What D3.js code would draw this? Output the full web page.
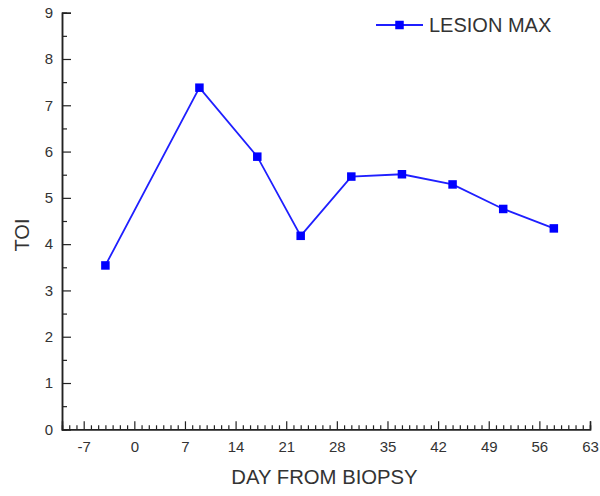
<!DOCTYPE html>
<html><head><meta charset="utf-8">
<script src="https://cdn.jsdelivr.net/npm/d3@7"></script>
<style>body{margin:0;background:#fff}svg{display:block}</style>
</head><body>
<svg id="c" width="600" height="496"></svg>
<script>
const days = [-4, 9, 17, 23, 30, 37, 44, 51, 58];
const lesionMax = [3.54, 7.38, 5.89, 4.18, 5.46, 5.51, 5.29, 4.76, 4.34];
const xTicks = [-7, 0, 7, 14, 21, 28, 35, 42, 49, 56, 63];
const yTicks = [0, 1, 2, 3, 4, 5, 6, 7, 8, 9];
const seriesName = "LESION MAX";
const xTitle = "DAY FROM BIOPSY";
const yTitle = "TOI";

const svg = d3.select("#c");
const L = 62, R = 590, T = 12.7, B = 429.3;
const x = d3.scaleLinear().domain([-10, 63]).range([L, R]);
const y = d3.scaleLinear().domain([0, 9]).range([B, T]);
const font = "'Liberation Sans', Arial, sans-serif";
const axisCol = "#222", textCol = "#333";
const fmt = v => String(v);

// minor ticks
const xMinor = d3.range(-9, 64).filter(v => !xTicks.includes(v));
const yMinor = d3.range(0.5, 9, 1);

const gx = svg.append("g").attr("transform", `translate(0,${B})`);
gx.call(d3.axisTop(x).tickValues(xMinor).tickSize(4).tickFormat(""));
const gx2 = svg.append("g").attr("transform", `translate(0,${B})`);
gx2.call(d3.axisTop(x).tickValues(xTicks).tickSize(8).tickFormat(""));
const gxl = svg.append("g").attr("transform", `translate(0,${B})`);
gxl.call(d3.axisBottom(x).tickValues(xTicks).tickSize(0).tickPadding(12).tickFormat(fmt));
[gx, gx2, gxl].forEach(g => {
  g.select(".domain").attr("stroke", axisCol).attr("stroke-width", 1.5);
  g.selectAll(".tick line").attr("stroke", axisCol).attr("stroke-width", 1.2);
});
gxl.select(".domain").remove();
gxl.selectAll("text").attr("font-family", font).attr("font-size", 15).attr("fill", textCol);

const gy = svg.append("g").attr("transform", `translate(${L},0)`);
gy.call(d3.axisRight(y).tickValues(yMinor).tickSize(5).tickFormat(""));
const gy2 = svg.append("g").attr("transform", `translate(${L},0)`);
gy2.call(d3.axisRight(y).tickValues(yTicks).tickSize(9).tickFormat(""));
const gyl = svg.append("g").attr("transform", `translate(${L},0)`);
gyl.call(d3.axisLeft(y).tickValues(yTicks).tickSize(0).tickPadding(9).tickFormat(fmt));
[gy, gy2, gyl].forEach(g => {
  g.select(".domain").attr("stroke", axisCol).attr("stroke-width", 1.5);
  g.selectAll(".tick line").attr("stroke", axisCol).attr("stroke-width", 1.2);
});
gyl.select(".domain").remove();
gyl.selectAll("text").attr("font-family", font).attr("font-size", 15).attr("fill", textCol);

// titles
svg.append("text").attr("x", 324.5).attr("y", 484)
  .attr("text-anchor", "middle").attr("font-family", font).attr("font-size", 20.3)
  .attr("fill", textCol).text(xTitle);
svg.append("text").attr("transform", `translate(29,${(T + B) / 2 + 14}) rotate(-90)`)
  .attr("text-anchor", "middle").attr("font-family", font).attr("font-size", 20)
  .attr("fill", textCol).text(yTitle);

// series
const data = days.map((d, i) => ({d, v: lesionMax[i]}));
const lineCol = "#1f1fff", markCol = "#0000ff";
svg.append("path").datum(data)
  .attr("d", d3.line().x(p => x(p.d)).y(p => y(p.v)))
  .attr("fill", "none").attr("stroke", lineCol).attr("stroke-width", 1.8);
const ms = 8.5;
svg.selectAll("rect.m").data(data).enter().append("rect").attr("class", "m")
  .attr("x", p => x(p.d) - ms / 2).attr("y", p => y(p.v) - ms / 2)
  .attr("width", ms).attr("height", ms).attr("fill", markCol);

// legend
const lg = svg.append("g").attr("transform", "translate(376,25)");
lg.append("line").attr("x1", 0).attr("x2", 47).attr("y1", 0).attr("y2", 0)
  .attr("stroke", lineCol).attr("stroke-width", 1.8);
lg.append("rect").attr("x", 23.5 - ms / 2).attr("y", -ms / 2).attr("width", ms).attr("height", ms)
  .attr("fill", markCol);
lg.append("text").attr("x", 53).attr("y", 7).attr("font-family", font).attr("font-size", 20)
  .attr("fill", textCol).text(seriesName);
</script>
</body></html>
